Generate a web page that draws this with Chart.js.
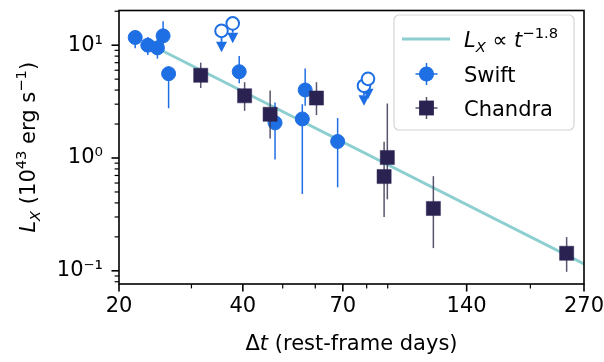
<!DOCTYPE html>
<html>
<head>
<meta charset="utf-8">
<script src="https://cdn.jsdelivr.net/npm/chart.js@4.4.0/dist/chart.umd.min.js"></script>
<style>
  html, body { margin: 0; padding: 0; background: #fff; }
</style>
</head>
<body>
<canvas id="chart" width="604" height="362"></canvas>
<script>
// ─── Data ──────────────────────────────────────────────────────────────────
const swiftT  = [21.9, 23.5, 24.8, 25.6, 26.4, 39.2, 47.9, 56.7, 55.8, 68.0];
const swiftL  = [11.7, 10.0, 9.46, 12.1, 5.59, 5.82, 2.05, 4.01, 2.22, 1.40];
const swiftLo = [9.4, 8.2, 7.6, 9.5, 2.76, 4.6, 0.97, 2.9, 0.48, 0.55];
const swiftHi = [13.5, 11.8, 11.3, 16.3, 6.5, 8.0, 3.1, 6.2, 3.0, 2.26];

// Swift upper limits (open circles with arrows)
const ulT   = [35.5, 37.8, 78.8, 80.6];
const ulL   = [13.4, 15.6, 4.37, 5.03];
const ulEnd = [10.7, 12.9, 3.6, 4.1];

const chandraT  = [31.6, 40.4, 46.6, 60.4, 89.8, 88.2, 116.2, 245];
const chandraL  = [5.41, 3.56, 2.44, 3.40, 1.01, 0.685, 0.357, 0.143];
const chandraLo = [4.17, 2.62, 1.49, 2.4, 0.43, 0.30, 0.159, 0.098];
const chandraHi = [7.0, 4.7, 3.96, 4.7, 3.04, 1.39, 0.69, 0.199];

// power-law line end points
const fitT = [24.8, 270];
const fitL = [9.39, 0.115];

const xTicks = [20, 40, 70, 140, 270];
const xTickLabels = ['20', '40', '70', '140', '270'];
const xMinor = [30, 50, 60, 80, 90, 200];
const yTicks = [0.1, 1, 10];
const yTickLabels = ['10\u207B\u00B9', '10\u2070', '10\u00B9'];
const yMinor = [0.08, 0.09, 0.2, 0.3, 0.4, 0.5, 0.6, 0.7, 0.8, 0.9, 2, 3, 4, 5, 6, 7, 8, 9, 20];

// ─── Styles ────────────────────────────────────────────────────────────────
const BLUE = '#1f6fe4';
const NAVY = '#2a2352';
const NAVY_ERR = 'rgba(60,55,85,0.85)';
const TEAL = '#8dcfd0';
const FONT = '"DejaVu Sans", sans-serif';
const FS = 21;

// ─── Rich text helper (italic / sub / sup) ─────────────────────────────────
function fontFor(p, size) {
  const sz = p.pos ? size * 0.7 : size;
  return `${p.it ? 'italic ' : ''}${sz}px ${FONT}`;
}
function richWidth(ctx, parts, size) {
  let w = 0;
  parts.forEach(p => { ctx.font = fontFor(p, size); w += ctx.measureText(p.t).width; });
  return w;
}
function drawRich(ctx, parts, x, y, size, align) {
  let cx = align === 'center' ? x - richWidth(ctx, parts, size) / 2 : x;
  ctx.textBaseline = 'alphabetic';
  ctx.textAlign = 'left';
  parts.forEach(p => {
    ctx.font = fontFor(p, size);
    const dy = p.pos === 1 ? -size * 0.42 : p.pos === -1 ? size * 0.22 : 0;
    ctx.fillText(p.t, cx, y + dy);
    cx += ctx.measureText(p.t).width;
  });
}

const yTitle = [
  { t: 'L', it: true }, { t: 'X', it: true, pos: -1 }, { t: ' (10' }, { t: '43', pos: 1 },
  { t: ' erg s' }, { t: '\u22121', pos: 1 }, { t: ')' }
];
const xTitle = [{ t: '\u0394' }, { t: 't', it: true }, { t: ' (rest-frame days)' }];
const fitLabel = [
  { t: 'L', it: true }, { t: 'X', it: true, pos: -1 }, { t: ' \u221D ' }, { t: 't', it: true }, { t: '\u22121.8', pos: 1 }
];

// ─── Plugin: error bars, frame, ticks, titles, legend ──────────────────────
const decor = {
  id: 'decor',
  beforeDatasetDraw(chart, args) {
    const ds = chart.data.datasets[args.index];
    const { ctx, scales: { x, y } } = chart;
    ctx.save();
    if (ds.errLo) {
      ctx.strokeStyle = ds.errColor;
      ctx.lineWidth = 1.5;
      ds.data.forEach((d, i) => {
        const px = x.getPixelForValue(d.x);
        ctx.beginPath();
        ctx.moveTo(px, y.getPixelForValue(ds.errLo[i]));
        ctx.lineTo(px, y.getPixelForValue(ds.errHi[i]));
        ctx.stroke();
      });
    }
    if (ds.ulEnd) {
      ctx.strokeStyle = BLUE;
      ctx.fillStyle = BLUE;
      ctx.lineWidth = 1.8;
      ds.data.forEach((d, i) => {
        const px = x.getPixelForValue(d.x);
        const py = y.getPixelForValue(d.y);
        const pe = y.getPixelForValue(ds.ulEnd[i]);
        ctx.beginPath();
        ctx.moveTo(px, py);
        ctx.lineTo(px, pe);
        ctx.stroke();
        ctx.beginPath();
        ctx.moveTo(px - 5.5, pe);
        ctx.lineTo(px + 5.5, pe);
        ctx.lineTo(px, pe + 10.5);
        ctx.closePath();
        ctx.fill();
      });
    }
    ctx.restore();
  },
  afterDatasetsDraw(chart) {
    const { ctx, chartArea: a, scales: { x, y } } = chart;
    ctx.save();
    ctx.strokeStyle = '#000';
    // frame
    ctx.lineWidth = 1.6;
    ctx.strokeRect(a.left, a.top, a.right - a.left, a.bottom - a.top);
    // ticks
    const tick = (horiz, v, len, w, scale) => {
      const p = scale.getPixelForValue(v);
      if (horiz && (p < a.left - 0.5 || p > a.right + 0.5)) return;
      if (!horiz && (p < a.top - 0.5 || p > a.bottom + 0.5)) return;
      ctx.lineWidth = w;
      ctx.beginPath();
      if (horiz) { ctx.moveTo(p, a.bottom); ctx.lineTo(p, a.bottom + len); }
      else { ctx.moveTo(a.left, p); ctx.lineTo(a.left - len, p); }
      ctx.stroke();
    };
    xTicks.forEach(v => tick(true, v, 7.5, 1.6, x));
    xMinor.forEach(v => tick(true, v, 4.4, 1.2, x));
    yTicks.forEach(v => tick(false, v, 7.5, 1.6, y));
    yMinor.forEach(v => tick(false, v, 4.4, 1.2, y));

    // axis titles
    ctx.fillStyle = '#000';
    drawRich(ctx, xTitle, (a.left + a.right) / 2, 350, FS, 'center');
    ctx.save();
    ctx.translate(35, (a.top + a.bottom) / 2);
    ctx.rotate(-Math.PI / 2);
    drawRich(ctx, yTitle, 0, 0, FS, 'center');
    ctx.restore();

    // legend
    const lx = 394, ly = 15, lw = 180, lh = 115;
    ctx.fillStyle = 'rgba(255,255,255,0.8)';
    ctx.strokeStyle = '#d4d4d4';
    ctx.lineWidth = 1.2;
    ctx.beginPath();
    ctx.roundRect(lx, ly, lw, lh, 5);
    ctx.fill();
    ctx.stroke();

    const rows = [39, 74, 108];
    const mx = 426.5, tx = 464;
    ctx.strokeStyle = TEAL;
    ctx.lineWidth = 3;
    ctx.beginPath();
    ctx.moveTo(402, rows[0]);
    ctx.lineTo(450, rows[0]);
    ctx.stroke();

    // swift marker
    ctx.strokeStyle = BLUE;
    ctx.lineWidth = 1.5;
    ctx.beginPath();
    ctx.moveTo(mx, rows[1] - 11); ctx.lineTo(mx, rows[1] + 11);
    ctx.moveTo(mx - 11, rows[1]); ctx.lineTo(mx + 11, rows[1]);
    ctx.stroke();
    ctx.fillStyle = BLUE;
    ctx.beginPath();
    ctx.arc(mx, rows[1], 7.6, 0, Math.PI * 2);
    ctx.fill();

    // chandra marker
    ctx.strokeStyle = NAVY_ERR;
    ctx.beginPath();
    ctx.moveTo(mx, rows[2] - 11); ctx.lineTo(mx, rows[2] + 11);
    ctx.moveTo(mx - 11, rows[2]); ctx.lineTo(mx + 11, rows[2]);
    ctx.stroke();
    ctx.fillStyle = NAVY;
    ctx.fillRect(mx - 7.4, rows[2] - 7.4, 14.8, 14.8);

    ctx.fillStyle = '#000';
    drawRich(ctx, fitLabel, tx, rows[0] + 8, FS, 'left');
    drawRich(ctx, [{ t: 'Swift' }], tx, rows[1] + 8, FS, 'left');
    drawRich(ctx, [{ t: 'Chandra' }], tx, rows[2] + 8, FS, 'left');
    ctx.restore();
  }
};

// ─── Chart ─────────────────────────────────────────────────────────────────
const pts = (xs, ys) => xs.map((v, i) => ({ x: v, y: ys[i] }));

new Chart(document.getElementById('chart').getContext('2d'), {
  type: 'scatter',
  data: {
    datasets: [
      { label: 'Chandra', data: pts(chandraT, chandraL), pointStyle: 'rect', pointRadius: 10,
        backgroundColor: NAVY, borderColor: NAVY, borderWidth: 0.5,
        errLo: chandraLo, errHi: chandraHi, errColor: NAVY_ERR, order: 1 },
      { label: 'Swift', data: pts(swiftT, swiftL), pointStyle: 'circle', pointRadius: 7,
        backgroundColor: BLUE, borderColor: BLUE, borderWidth: 1,
        errLo: swiftLo, errHi: swiftHi, errColor: BLUE, order: 2 },
      { label: 'Swift limits', data: pts(ulT, ulL), pointStyle: 'circle', pointRadius: 6.3,
        backgroundColor: '#fff', borderColor: BLUE, borderWidth: 2, ulEnd: ulEnd, order: 3 },
      { label: 'fit', data: pts(fitT, fitL), showLine: true, pointRadius: 0,
        borderColor: TEAL, borderWidth: 3, order: 4 }
    ]
  },
  options: {
    responsive: false,
    animation: false,
    events: [],
    layout: { padding: { left: 0, top: 4, right: 20, bottom: 0 } },
    plugins: { legend: { display: false }, tooltip: { enabled: false } },
    scales: {
      x: {
        type: 'logarithmic', min: 20, max: 270,
        grid: { display: false, drawTicks: false }, border: { display: false },
        afterBuildTicks: s => { s.ticks = xTicks.map(v => ({ value: v })); },
        afterFit: s => { s.height = 78; s.paddingLeft = 0; s.paddingRight = 0; },
        ticks: { autoSkip: false, maxRotation: 0, padding: 10, color: '#000',
          font: { family: FONT, size: FS }, callback: (v, i) => xTickLabels[i] }
      },
      y: {
        type: 'logarithmic', min: 0.0764, max: 20.3,
        grid: { display: false, drawTicks: false }, border: { display: false },
        afterBuildTicks: s => { s.ticks = yTicks.map(v => ({ value: v })); },
        afterFit: s => { s.width = 119; s.paddingTop = 0; s.paddingBottom = 0; },
        ticks: { autoSkip: false, padding: 16, color: '#000',
          font: { family: FONT, size: FS }, callback: (v, i) => yTickLabels[i] }
      }
    }
  },
  plugins: [decor]
});
</script>
</body>
</html>
